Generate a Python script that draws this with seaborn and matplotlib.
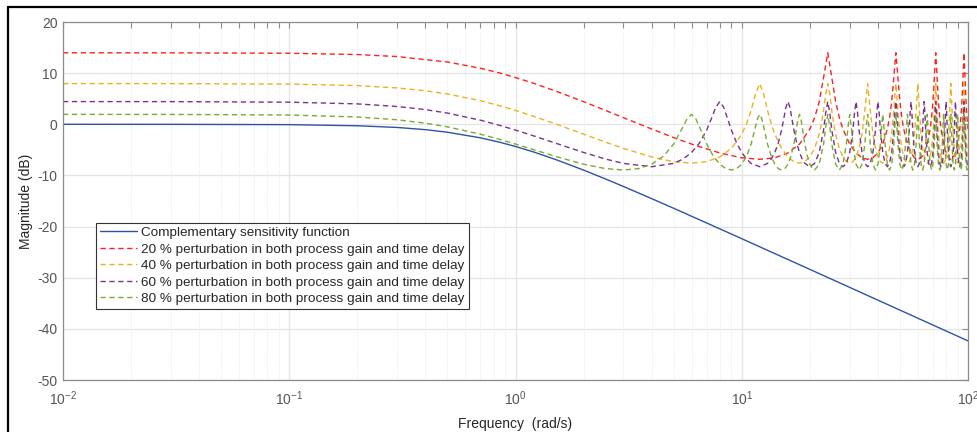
import matplotlib
matplotlib.use("Agg")
import matplotlib.pyplot as plt
import pandas as pd
import seaborn as sns
from matplotlib.lines import Line2D
from matplotlib.ticker import LogLocator, NullFormatter, LogFormatterMathtext

# ---- complementary sensitivity function |T(jw)| in dB ----
t_freq = [0.01, 0.03, 0.1, 0.2, 0.3, 0.4, 0.5, 0.7, 0.85, 1, 1.2, 1.5, 2, 2.5, 3,
          4, 5, 7, 10, 15, 20, 30, 50, 70, 100]
t_db = [0.00, -0.01, -0.07, -0.29, -0.62, -1.05, -1.55, -2.65, -3.50, -4.34, -5.40,
        -6.87, -8.96, -10.69, -12.16, -14.54, -16.42, -19.30, -22.37, -25.88,
        -28.37, -31.89, -36.33, -39.25, -42.35]

# ---- 20 % perturbation ----
p20_freq = [0.01, 0.03, 0.1, 0.2, 0.3, 0.5, 0.7, 0.85, 1, 1.2, 1.5, 2, 2.5, 3, 4, 5, 6, 8, 10,
            12, 14, 16, 18, 20, 21, 22, 23, 24, 25, 26, 27, 28, 30, 32, 34,
            36, 38, 40, 42, 44, 45, 46, 47, 48, 49, 50, 51, 52, 54, 56, 58,
            60, 62, 64, 66, 68, 69, 70, 71, 72, 73, 74, 75, 76, 78, 80, 82,
            84, 86, 88, 90, 92, 93, 94, 95, 96, 97, 98, 99, 100]
p20_db = [13.98, 13.97, 13.89, 13.64, 13.24, 12.18, 10.96, 10.04, 9.14, 8.03, 6.52, 4.42,
          2.71, 1.29, -0.93, -2.60, -3.87, -5.61, -6.55,
          -6.85, -6.55, -5.61, -3.87, -0.93, 1.29, 4.42, 9.14, 13.98, 9.14, 4.42, 1.29, -0.93, -3.87, -5.61, -6.55,
          -6.85, -6.55, -5.61, -3.87, -0.93, 1.29, 4.42, 9.14, 13.98, 9.14, 4.42, 1.29, -0.93, -3.87, -5.61, -6.55,
          -6.85, -6.55, -5.61, -3.87, -0.93, 1.29, 4.42, 9.14, 13.98, 9.14, 4.42, 1.29, -0.93, -3.87, -5.61, -6.55,
          -6.85, -6.55, -5.61, -3.87, -0.93, 1.29, 4.42, 9.14, 13.98, 9.14, 4.42, 1.29, -0.93]

# ---- 40 % perturbation ----
p40_freq = [0.01, 0.03, 0.1, 0.2, 0.3, 0.4, 0.5, 0.7, 0.85, 1, 1.2, 1.5, 2, 2.5, 3, 4, 5,
            6, 7, 8, 9, 10, 10.5, 11, 11.5, 12, 12.5, 13, 13.5, 14, 15, 16, 17,
            18, 19, 20, 21, 22, 22.5, 23, 23.5, 24, 24.5, 25, 25.5, 26, 27, 28, 29,
            30, 31, 32, 33, 34, 35, 36, 37, 38, 39, 40, 41,
            42, 43, 44, 45, 46, 47, 48, 49, 50, 51, 52, 53,
            54, 55, 56, 57, 58, 59, 60, 61, 62, 63, 64, 65,
            66, 67, 68, 69, 70, 71, 72, 73, 74, 75, 76, 77,
            78, 79, 80, 81, 82, 83, 84, 85, 86, 87, 88, 89,
            90, 91, 92, 93, 94, 95, 96, 97, 98, 99, 100]
p40_db = [7.96, 7.95, 7.86, 7.56, 7.11, 6.55, 5.93, 4.61, 3.64, 2.72, 1.58, 0.09, -1.93, -3.49,
          -4.71, -6.39, -7.31,
          -7.60, -7.31, -6.39, -4.71, -1.93, 0.09, 2.72, 5.93, 7.96, 5.93, 2.72, 0.09, -1.93, -4.71, -6.39, -7.31,
          -7.60, -7.31, -6.39, -4.71, -1.93, 0.09, 2.72, 5.93, 7.96, 5.93, 2.72, 0.09, -1.93, -4.71, -6.39, -7.31,
          -7.60, -7.31, -6.39, -4.71, -1.93, 2.72, 7.96, 2.72, -1.93, -4.71, -6.39, -7.31,
          -7.60, -7.31, -6.39, -4.71, -1.93, 2.72, 7.96, 2.72, -1.93, -4.71, -6.39, -7.31,
          -7.60, -7.31, -6.39, -4.71, -1.93, 2.72, 7.96, 2.72, -1.93, -4.71, -6.39, -7.31,
          -7.60, -7.31, -6.39, -4.71, -1.93, 2.72, 7.96, 2.72, -1.93, -4.71, -6.39, -7.31,
          -7.60, -7.31, -6.39, -4.71, -1.93, 2.72, 7.96, 2.72, -1.93, -4.71, -6.39, -7.31,
          -7.60, -7.31, -6.39, -4.71, -1.93, 2.72, 7.96, 2.72, -1.93, -4.71, -6.39]

# ---- 60 % perturbation ----
p60_freq = [0.01, 0.03, 0.1, 0.2, 0.3, 0.4, 0.5, 0.7, 0.85, 1, 1.2, 1.5, 2, 2.5, 3,
            4, 5, 5.5, 6, 6.5, 7, 7.33, 7.67, 8, 8.33, 8.67, 9, 9.5, 10, 10.5, 11,
            12, 13, 13.5, 14, 14.5, 15, 15.33, 15.67, 16, 16.33, 16.67, 17, 17.5, 18, 18.5, 19,
            20, 21, 22, 23, 23.5, 24, 24.5, 25, 26, 27,
            28, 29, 30, 31, 31.5, 32, 32.5, 33, 34, 35,
            36, 37, 38, 39, 39.5, 40, 40.5, 41, 42, 43,
            44, 45, 46, 47, 47.5, 48, 48.5, 49, 50, 51,
            52, 53, 54, 55, 55.5, 56, 56.5, 57, 58, 59,
            60, 61, 62, 63, 63.5, 64, 64.5, 65, 66, 67,
            68, 69, 70, 71, 71.5, 72, 72.5, 73, 74, 75,
            76, 77, 78, 79, 79.5, 80, 80.5, 81, 82, 83,
            84, 85, 86, 87, 87.5, 88, 88.5, 89, 90, 91,
            92, 93, 94, 95, 95.5, 96, 96.5, 97, 98, 99, 100]
p60_db = [4.44, 4.43, 4.32, 3.99, 3.48, 2.87, 2.19, 0.80, -0.20, -1.13, -2.25, -3.68, -5.51,
          -6.80, -7.65,
          -8.30, -7.65, -6.80, -5.51, -3.68, -1.13, 1.03, 3.29, 4.44, 3.29, 1.03, -1.13, -3.68, -5.51, -6.80, -7.65,
          -8.30, -7.65, -6.80, -5.51, -3.68, -1.13, 1.03, 3.29, 4.44, 3.29, 1.03, -1.13, -3.68, -5.51, -6.80, -7.65,
          -8.30, -7.65, -5.51, -1.13, 2.19, 4.44, 2.19, -1.13, -5.51, -7.65,
          -8.30, -7.65, -5.51, -1.13, 2.19, 4.44, 2.19, -1.13, -5.51, -7.65,
          -8.30, -7.65, -5.51, -1.13, 2.19, 4.44, 2.19, -1.13, -5.51, -7.65,
          -8.30, -7.65, -5.51, -1.13, 2.19, 4.44, 2.19, -1.13, -5.51, -7.65,
          -8.30, -7.65, -5.51, -1.13, 2.19, 4.44, 2.19, -1.13, -5.51, -7.65,
          -8.30, -7.65, -5.51, -1.13, 2.19, 4.44, 2.19, -1.13, -5.51, -7.65,
          -8.30, -7.65, -5.51, -1.13, 2.19, 4.44, 2.19, -1.13, -5.51, -7.65,
          -8.30, -7.65, -5.51, -1.13, 2.19, 4.44, 2.19, -1.13, -5.51, -7.65,
          -8.30, -7.65, -5.51, -1.13, 2.19, 4.44, 2.19, -1.13, -5.51, -7.65,
          -8.30, -7.65, -5.51, -1.13, 2.19, 4.44, 2.19, -1.13, -5.51, -7.65, -8.30]

# ---- 80 % perturbation ----
p80_freq = [0.01, 0.03, 0.1, 0.2, 0.3, 0.4, 0.5, 0.7, 0.85, 1, 1.2, 1.5, 2, 2.5,
            3, 3.5, 4, 4.5, 5, 5.5, 5.75, 6, 6.25, 6.5, 7, 7.5, 8, 8.5,
            9, 9.5, 10, 10.5, 11, 11.5, 11.75, 12, 12.25, 12.5, 13, 13.5, 14, 14.5,
            15, 15.5, 16, 16.5, 17, 17.5, 17.75, 18, 18.25, 18.5, 19, 19.5, 20, 20.5,
            21, 22, 23, 23.5, 24, 24.5, 25, 26,
            27, 28, 29, 29.5, 30, 30.5, 31, 32,
            33, 34, 35, 35.5, 36, 36.5, 37, 38,
            39, 40, 41, 41.5, 42, 42.5, 43, 44,
            45, 46, 47, 47.5, 48, 48.5, 49, 50,
            51, 52, 53, 53.5, 54, 54.5, 55, 56,
            57, 58, 59, 59.5, 60, 60.5, 61, 62,
            63, 64, 65, 65.5, 66, 66.5, 67, 68,
            69, 70, 71, 71.5, 72, 72.5, 73, 74,
            75, 76, 77, 77.5, 78, 78.5, 79, 80,
            81, 82, 83, 83.5, 84, 84.5, 85, 86,
            87, 88, 89, 89.5, 90, 90.5, 91, 92,
            93, 94, 95, 95.5, 96, 96.5, 97, 98,
            99, 100]
p80_db = [1.94, 1.93, 1.81, 1.43, 0.88, 0.22, -0.50, -1.94, -2.95, -3.87, -4.95, -6.27, -7.81, -8.67,
          -8.94, -8.67, -7.81, -6.27, -3.87, -0.50, 1.17, 1.94, 1.17, -0.50, -3.87, -6.27, -7.81, -8.67,
          -8.94, -8.67, -7.81, -6.27, -3.87, -0.50, 1.17, 1.94, 1.17, -0.50, -3.87, -6.27, -7.81, -8.67,
          -8.94, -8.67, -7.81, -6.27, -3.87, -0.50, 1.17, 1.94, 1.17, -0.50, -3.87, -6.27, -7.81, -8.67,
          -8.94, -7.81, -3.87, -0.50, 1.94, -0.50, -3.87, -7.81,
          -8.94, -7.81, -3.87, -0.50, 1.94, -0.50, -3.87, -7.81,
          -8.94, -7.81, -3.87, -0.50, 1.94, -0.50, -3.87, -7.81,
          -8.94, -7.81, -3.87, -0.50, 1.94, -0.50, -3.87, -7.81,
          -8.94, -7.81, -3.87, -0.50, 1.94, -0.50, -3.87, -7.81,
          -8.94, -7.81, -3.87, -0.50, 1.94, -0.50, -3.87, -7.81,
          -8.94, -7.81, -3.87, -0.50, 1.94, -0.50, -3.87, -7.81,
          -8.94, -7.81, -3.87, -0.50, 1.94, -0.50, -3.87, -7.81,
          -8.94, -7.81, -3.87, -0.50, 1.94, -0.50, -3.87, -7.81,
          -8.94, -7.81, -3.87, -0.50, 1.94, -0.50, -3.87, -7.81,
          -8.94, -7.81, -3.87, -0.50, 1.94, -0.50, -3.87, -7.81,
          -8.94, -7.81, -3.87, -0.50, 1.94, -0.50, -3.87, -7.81,
          -8.94, -7.81, -3.87, -0.50, 1.94, -0.50, -3.87, -7.81,
          -8.94, -7.81]

series_labels = [
    "Complementary sensitivity function",
    "20 % perturbation in both process gain and time delay",
    "40 % perturbation in both process gain and time delay",
    "60 % perturbation in both process gain and time delay",
    "80 % perturbation in both process gain and time delay",
]
series_colors = ["#2F52A4", "#FF1F1F", "#EDB120", "#7E2F8E", "#77AC30"]

sns.set_theme(style="white")
plt.rcParams["font.family"] = ["Liberation Sans", "DejaVu Sans"]
plt.rcParams["mathtext.fontset"] = "custom"
plt.rcParams["mathtext.rm"] = "Liberation Sans"
plt.rcParams["mathtext.it"] = "Liberation Sans:italic"
plt.rcParams["axes.unicode_minus"] = False

fig = plt.figure(figsize=(9.77, 4.32), dpi=100)
ax = fig.add_axes([63 / 977, 1 - 380 / 432, 905 / 977, 358 / 432])
ax.set_xscale("log")

all_series = [(t_freq, t_db), (p20_freq, p20_db), (p40_freq, p40_db),
              (p60_freq, p60_db), (p80_freq, p80_db)]
for i, ((fr, db), lab, col) in enumerate(zip(all_series, series_labels, series_colors)):
    df = pd.DataFrame({"freq": fr, "mag": db})
    style = "-" if i == 0 else (0, (3.8, 2.6))
    sns.lineplot(data=df, x="freq", y="mag", ax=ax, color=col, label=lab,
                 estimator=None, sort=False, linewidth=1.0, linestyle=style)

ax.set_xlim(1e-2, 1e2)
ax.set_ylim(-50, 20)
ax.set_yticks(range(-50, 21, 10))
ax.xaxis.set_major_locator(LogLocator(base=10, numticks=10))
ax.xaxis.set_major_formatter(LogFormatterMathtext())
ax.xaxis.set_minor_locator(LogLocator(base=10, subs=range(2, 10), numticks=50))
ax.xaxis.set_minor_formatter(NullFormatter())

ax.set_axisbelow(True)
ax.grid(True, which="major", color="#e4e4e4", linewidth=0.9)
ax.grid(True, which="minor", axis="x", color="#dcdcdc", linewidth=0.6, linestyle=(0, (1, 2)))

for sp in ax.spines.values():
    sp.set_color("#8c8c8c")
    sp.set_linewidth(0.9)
ax.tick_params(which="both", direction="in", top=True, right=True, color="#8c8c8c",
               labelcolor="#555555", labelsize=10, length=4.5, width=0.8)
ax.tick_params(axis="x", which="major", pad=7)
ax.tick_params(axis="y", which="major", pad=4)

ax.set_xlabel("Frequency  (rad/s)", fontsize=10, color="#262626", labelpad=6)
ax.set_ylabel("Magnitude (dB)", fontsize=10, color="#262626", labelpad=3)

leg = ax.legend(loc="lower left", bbox_to_anchor=(0.0365, 0.198), borderaxespad=0,
                fontsize=9.7, frameon=True, fancybox=False, handlelength=2.75,
                handletextpad=0.3, borderpad=0.3, labelspacing=0.3)
leg.get_frame().set_edgecolor("#333333")
leg.get_frame().set_linewidth(0.8)
leg.get_frame().set_facecolor("white")
leg.get_frame().set_alpha(1.0)

# outer figure frame (top and left edges)
fig.add_artist(Line2D([8 / 977, 8 / 977], [0, 1 - 7 / 432], transform=fig.transFigure,
                      color="black", linewidth=1.6))
fig.add_artist(Line2D([8 / 977, 1], [1 - 7 / 432, 1 - 7 / 432], transform=fig.transFigure,
                      color="black", linewidth=1.6))

fig.savefig("out.png", dpi=100, facecolor="white")
